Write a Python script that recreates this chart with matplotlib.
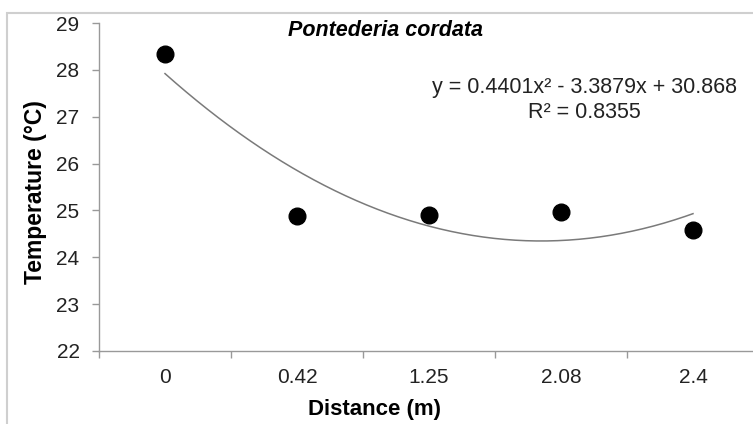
import numpy as np
import matplotlib
matplotlib.use('Agg')
import matplotlib.pyplot as plt
from matplotlib.patches import Rectangle

plt.rcParams['font.family'] = ['Liberation Sans', 'DejaVu Sans']

# Temperatura por distancia (categorias equiespaciadas)
distancias = ['0', '0.42', '1.25', '2.08', '2.4']
temperatura = [28.33, 24.89, 24.90, 24.97, 24.58]
# ajuste polinomico de orden 2 sobre el indice de categoria
coef = [0.4401, -3.3879, 30.868]
r2 = 0.8355

x = np.arange(1, len(distancias) + 1)
xx = np.linspace(1, len(distancias), 200)
yy = np.polyval(coef, xx)

fig = plt.figure(figsize=(7.53, 4.24), dpi=100)
# marco exterior del grafico
fig.patches.append(Rectangle((7 / 753, -0.1), 1.2, (424 - 13) / 424 + 0.1,
                             transform=fig.transFigure, fill=False,
                             edgecolor='#cfcfcf', linewidth=1.5, zorder=0))

ax = fig.add_axes([99 / 753, 73 / 424, 660 / 753, 328 / 424])
ax.plot(xx, yy, color='#7a7a7a', linewidth=1.1, zorder=2)
ax.plot(x, temperatura, 'o', color='black', markersize=12, zorder=3)

ax.set_xlim(0.5, len(distancias) + 0.5)
ax.set_ylim(22, 29)
ax.set_yticks(range(22, 30))
ax.set_xticks(x)
ax.set_xticklabels(distancias)
ax.set_xticks(np.arange(0.5, len(distancias) + 1, 1), minor=True)
ax.tick_params(axis='x', which='major', length=0, pad=12, labelsize=15,
               labelcolor='#222222')
ax.tick_params(axis='x', which='minor', length=5, color='#999999', width=1)
ax.tick_params(axis='y', length=5, color='#999999', width=1, pad=9,
               labelsize=15, labelcolor='#222222')

for s in ['top', 'right']:
    ax.spines[s].set_visible(False)
for s in ['left', 'bottom']:
    ax.spines[s].set_color('#999999')
    ax.spines[s].set_linewidth(1)

ax.set_xlabel('Distance (m)', fontsize=16, fontweight='bold')
ax.set_ylabel('Temperature (°C)', fontsize=16.5, fontweight='bold')
ax.xaxis.set_label_coords((375 - 99) / 660, -(409 - 351) / 328)
ax.yaxis.set_label_coords(-(99 - 36) / 660, (351 - 192) / 328)
ax.xaxis.label.set_va('center')
ax.yaxis.label.set_va('center')

fig.text(385 / 753, 1 - 31 / 424, 'Pontederia cordata', fontsize=15.5,
         fontweight='bold', fontstyle='italic', ha='center', va='center')
eq = 'y = %.4fx² - %.4fx + %.3f' % (coef[0], -coef[1], coef[2])
fig.text(584 / 753, 1 - 88 / 424, eq, fontsize=15.5, ha='center',
         va='center', color='#222222')
fig.text(584 / 753, 1 - 112 / 424, 'R² = %.4f' % r2, fontsize=15.5,
         ha='center', va='center', color='#222222')

fig.savefig('out.png', dpi=100)
